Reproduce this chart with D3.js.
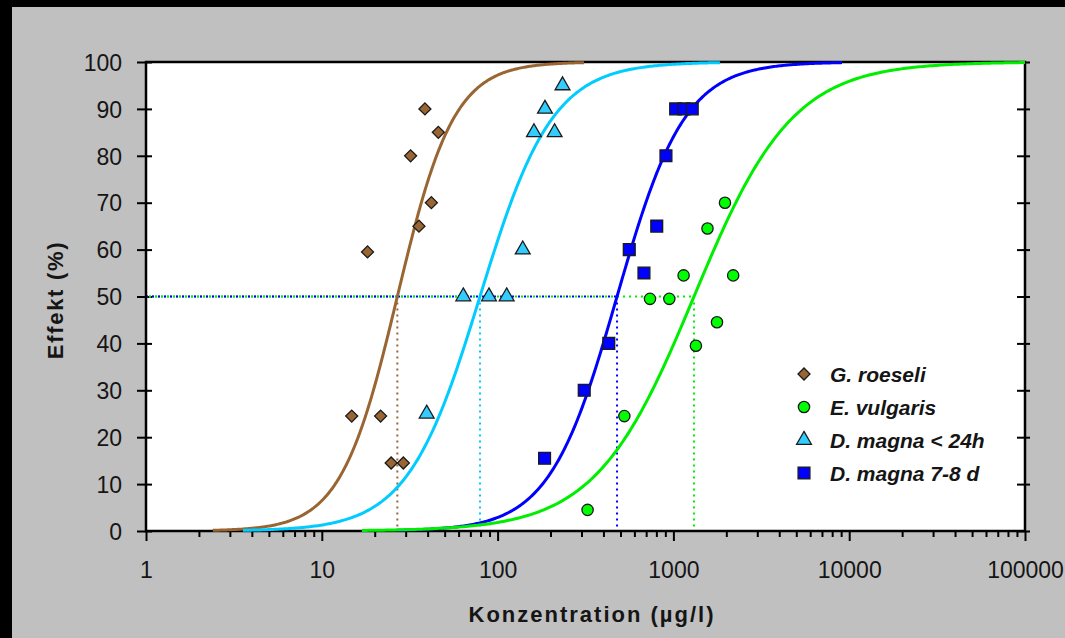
<!DOCTYPE html>
<html>
<head>
<meta charset="utf-8">
<script src="https://cdn.jsdelivr.net/npm/d3@7"></script>
<style>
  body { margin: 0; background: #000; }
  svg { display: block; font-family: "Liberation Sans", Arial, sans-serif; }
  .tick text { font-size: 23px; fill: #151515; }
  .legend text { font-size: 21px; font-weight: bold; font-style: italic; fill: #151515; }
  .axis-title { font-size: 22px; font-weight: bold; fill: #151515; }
</style>
</head>
<body>
<div id="chart"></div>
<script>
// x axis: concentration (µg/l), log scale
const concTicks = [1, 10, 100, 1000, 10000, 100000];
const effectTicks = [0, 10, 20, 30, 40, 50, 60, 70, 80, 90, 100];

const roeseliConc = [38.6, 46, 32, 42, 35.7, 18.2, 14.8, 21.6, 24.8, 29.1];
const roeseliEff = [90, 85, 80, 70, 65, 59.5, 24.5, 24.5, 14.5, 14.5];

const vulgarisConc = [1965, 1563, 1143, 2188, 736, 948, 1770, 1343, 526, 325];
const vulgarisEff = [70, 64.5, 54.5, 54.5, 49.5, 49.5, 44.5, 39.5, 24.5, 4.5];

const magna24Conc = [234, 186, 161, 211, 139, 63.8, 89.3, 112.6, 39.5];
const magna24Eff = [95, 90, 85, 85, 60, 50, 50, 50, 25];

const magna78Conc = [1030, 1148, 1280, 907, 804, 561, 680, 429, 311, 185];
const magna78Eff = [90, 90, 90, 80, 65, 60, 55, 40, 30, 15.5];

// fitted dose-response curves (log-logistic), one entry per species
const seriesNames = ['G. roeseli', 'E. vulgaris', 'D. magna < 24h', 'D. magna 7-8 d'];
const ec50 = [26.9, 1310, 79.4, 478];
const hillSlope = [2.7, 1.55, 2.1, 2.25];
const curveFrom = [2.4, 16.9, 3.56, 26.8];
const curveTo = [310, 100000, 1840, 9100];

const W = 1065, H = 638;
const margin = { left: 146, right: 1025, top: 62, bottom: 531 };

const colors = ['#996633', '#00ee00', '#00ccff', '#0000ff'];
const fills = ['#996633', '#00ff00', '#33ccff', '#0000ff'];
const symbols = [d3.symbolSquare, d3.symbolCircle, d3.symbolTriangle, d3.symbolSquare];
const symbolSize = [72, 100, 95, 140];
const symbolRot = [45, 0, 0, 0];
// draw order of curves / dotted lines
const drawOrder = [0, 2, 3, 1];

const points = [
  roeseliConc.map((c, i) => ({ c, e: roeseliEff[i] })),
  vulgarisConc.map((c, i) => ({ c, e: vulgarisEff[i] })),
  magna24Conc.map((c, i) => ({ c, e: magna24Eff[i] })),
  magna78Conc.map((c, i) => ({ c, e: magna78Eff[i] })),
];

const x = d3.scaleLog().domain([1, 100000]).range([margin.left, margin.right]);
const y = d3.scaleLinear().domain([0, 100]).range([margin.bottom, margin.top]);

function response(k, c) {
  return 100 / (1 + Math.pow(ec50[k] / c, hillSlope[k]));
}

const svg = d3.select('#chart').append('svg')
  .attr('width', W)
  .attr('height', H);

svg.append('rect').attr('width', W).attr('height', H).attr('fill', '#000');
svg.append('rect').attr('x', 12).attr('y', 7).attr('width', W - 12).attr('height', H - 7).attr('fill', '#c0c0c0');

svg.append('rect')
  .attr('x', margin.left).attr('y', margin.top)
  .attr('width', margin.right - margin.left)
  .attr('height', margin.bottom - margin.top)
  .attr('fill', '#fff');

// y axis, ticks crossing the line
const yAxis = svg.append('g')
  .attr('transform', `translate(${margin.left},0)`)
  .call(d3.axisLeft(y).tickValues(effectTicks).tickSize(9).tickPadding(15).tickFormat(d3.format('d')));
yAxis.select('.domain').remove();
yAxis.selectAll('.tick line').attr('x1', 6).attr('stroke', '#000').attr('stroke-width', 2);
yAxis.selectAll('.tick text').attr('dy', '0.36em');

// right side ticks
const yRight = svg.append('g')
  .attr('transform', `translate(${margin.right},0)`)
  .call(d3.axisRight(y).tickValues(effectTicks).tickSize(5).tickFormat(''));
yRight.select('.domain').remove();
yRight.selectAll('.tick line').attr('x1', -8).attr('stroke', '#000').attr('stroke-width', 2);

// x axis: majors with labels, minors without
const minorTicks = [];
concTicks.slice(0, -1).forEach((d) => {
  for (let m = 2; m <= 9; m++) minorTicks.push(d * m);
});
const xMinor = svg.append('g')
  .attr('transform', `translate(0,${margin.bottom})`)
  .call(d3.axisBottom(x).tickValues(minorTicks).tickSize(6).tickFormat(''));
xMinor.select('.domain').remove();
xMinor.selectAll('.tick line').attr('stroke', '#000').attr('stroke-width', 2);

const xAxis = svg.append('g')
  .attr('transform', `translate(0,${margin.bottom})`)
  .call(d3.axisBottom(x).tickValues(concTicks).tickSize(10).tickPadding(21).tickFormat(d3.format('d')));
xAxis.select('.domain').remove();
xAxis.selectAll('.tick line').attr('stroke', '#000').attr('stroke-width', 2);

// dotted EC50 guides
drawOrder.forEach((k, j) => {
  const xe = x(ec50[k]);
  svg.append('line')
    .attr('x1', margin.left).attr('x2', xe)
    .attr('y1', y(50)).attr('y2', y(50))
    .attr('stroke', colors[k]).attr('stroke-width', 2)
    .attr('stroke-dasharray', '2,4').attr('stroke-dashoffset', j * 3);
  svg.append('line')
    .attr('x1', xe).attr('x2', xe)
    .attr('y1', y(50)).attr('y2', y(0))
    .attr('stroke', colors[k]).attr('stroke-width', 2)
    .attr('stroke-dasharray', '2,4');
});

// frame
svg.append('rect')
  .attr('x', margin.left).attr('y', margin.top)
  .attr('width', margin.right - margin.left)
  .attr('height', margin.bottom - margin.top)
  .attr('fill', 'none').attr('stroke', '#000').attr('stroke-width', 2.5);

// curves
const line = d3.line().x((d) => x(d.c)).y((d) => y(d.e)).curve(d3.curveLinear);
drawOrder.forEach((k) => {
  const samples = d3.range(0, 301).map((i) => {
    const lc = Math.log10(curveFrom[k]) + (Math.log10(curveTo[k]) - Math.log10(curveFrom[k])) * i / 300;
    const c = Math.pow(10, lc);
    return { c, e: response(k, c) };
  });
  svg.append('path')
    .datum(samples)
    .attr('d', line)
    .attr('fill', 'none')
    .attr('stroke', colors[k])
    .attr('stroke-width', 3);
});

// markers
function marker(sel, k) {
  sel.append('path')
    .attr('d', d3.symbol().type(symbols[k]).size(symbolSize[k]))
    .attr('transform', `rotate(${symbolRot[k]})`)
    .attr('fill', fills[k])
    .attr('stroke', '#1a1a1a')
    .attr('stroke-width', 1.3);
}

[0, 2, 3, 1].forEach((k) => {
  svg.append('g').selectAll('g')
    .data(points[k])
    .join('g')
    .attr('transform', (d) => `translate(${x(d.c)},${y(d.e)})`)
    .each(function () { marker(d3.select(this), k); });
});

// legend
const legend = svg.append('g').attr('class', 'legend').attr('transform', 'translate(804,374)');
seriesNames.forEach((name, k) => {
  const row = legend.append('g').attr('transform', `translate(0,${k * 33})`);
  marker(row, k);
  row.append('text').attr('x', 26).attr('dy', '0.36em').text(name);
});

// axis titles
svg.append('text')
  .attr('class', 'axis-title')
  .attr('x', 592).attr('y', 622)
  .attr('text-anchor', 'middle')
  .attr('letter-spacing', 2)
  .text('Konzentration (µg/l)');

svg.append('text')
  .attr('class', 'axis-title')
  .attr('transform', 'translate(63,300) rotate(-90)')
  .attr('text-anchor', 'middle')
  .attr('letter-spacing', 1.7)
  .text('Effekt (%)');
</script>
</body>
</html>
